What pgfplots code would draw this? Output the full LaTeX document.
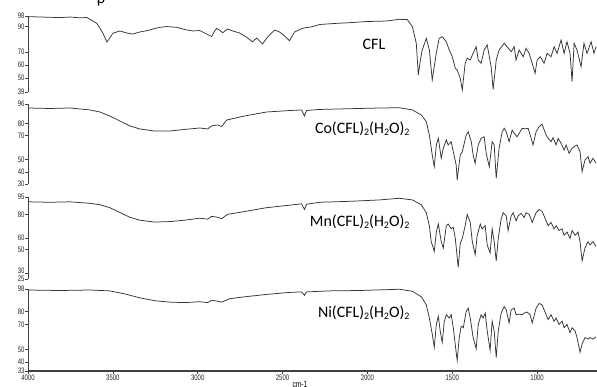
\documentclass[border=0pt]{standalone}
\usepackage{fontspec}
\setmainfont{Carlito}
\newfontfamily\narrow[FakeStretch=0.75]{Liberation Sans}
\usepackage{pgfplots}
\pgfplotsset{compat=1.18}
\newcommand\sub[1]{\raisebox{-0.12em}{\fontsize{10}{10}\selectfont #1}}
\begin{document}
\begin{tikzpicture}[x=1bp,y=1bp]
\pgfplotsset{
  ir/.style={
    scale only axis, width=577bp, anchor=south west,
    xmin=600, xmax=4000, x dir=reverse,
    axis y line*=left,
    axis line style={black!75, line width=0.8bp},
    tick style={black!75, line width=0.6bp},
    major tick length=2.5bp,
    tick align=outside,
    yticklabel style={font=\narrow\fontsize{8}{8}\selectfont, inner sep=0.8bp, text=black!85},
    xticklabel style={font=\narrow\fontsize{8}{8}\selectfont, inner sep=1bp, text=black!85},
    /pgf/number format/assume math mode=true,
    /pgf/number format/1000 sep={},
    clip=false,
  },
  spec/.style={black!80, line width=0.75bp, mark=none},
}
% CFL
\begin{axis}[ir, axis x line=none, at={(28bp,294bp)}, height=76bp, ymin=39, ymax=98, ytick={39,50,60,70,90,98}]
\addplot[spec] coordinates {
(4000,97.5)(3870,97.0)(3812,96.8)(3750,97.2)(3700,96.6)(3653,96.8)(3594,92.3)(3559,84.8)(3535,77.8)(3518,80.9)(3500,84.6)(3459,86.4)(3418,84.8)(3382,84.0)(3341,85.6)(3300,86.6)(3224,89.2)(3182,89.8)(3124,89.2)(3077,87.5)(3029,86.4)(2988,86.7)(2947,84.0)(2918,82.1)(2900,86.4)(2888,88.3)(2871,87.1)(2853,85.0)(2824,87.9)(2794,86.4)(2753,84.8)(2712,81.5)(2677,78.0)(2653,80.9)(2618,76.3)(2588,81.7)(2547,87.1)(2518,85.6)(2488,82.5)(2459,78.8)(2429,85.6)(2382,88.5)(2324,89.7)(2282,91.4)(2194,92.2)(2106,92.8)(2006,93.7)(1888,94.1)(1812,95.4)(1765,95.3)(1735,89.7)(1712,76.8)(1700,52.2)(1688,63.8)(1677,71.6)(1653,80.7)(1635,71.6)(1618,48.3)(1594,69.3)(1577,80.7)(1559,81.9)(1535,78.0)(1518,71.6)(1500,66.4)(1482,57.4)(1471,56.1)(1453,49.6)(1441,40.6)(1424,61.3)(1412,65.2)(1394,63.8)(1382,67.7)(1359,74.2)(1347,63.8)(1330,61.3)(1312,71.6)(1294,75.5)(1271,58.6)(1259,41.1)(1241,63.8)(1224,71.6)(1194,76.8)(1177,74.2)(1153,70.3)(1135,74.2)(1124,63.8)(1106,71.6)(1082,66.4)(1065,72.9)(1047,69.0)(1029,61.3)(1012,53.5)(1000,63.8)(982,66.4)(959,61.3)(941,69.0)(918,66.4)(900,74.2)(882,69.0)(859,79.4)(841,69.0)(824,78.0)(806,69.0)(794,47.0)(782,76.8)(765,71.6)(741,58.6)(724,76.8)(706,69.0)(682,78.0)(665,69.0)(653,74.2)
};
\end{axis}
% Co
\begin{axis}[ir, axis x line=none, at={(28bp,202bp)}, height=80bp, ymin=30, ymax=96, ytick={30,40,50,70,80,96}]
\addplot[spec] coordinates {
(4000,92.7)(3871,92.3)(3753,92.7)(3635,91.1)(3576,89.4)(3518,86.1)(3459,82.0)(3400,77.9)(3341,75.4)(3253,73.7)(3165,73.7)(3077,75.0)(2988,76.2)(2941,75.4)(2918,77.9)(2882,78.7)(2859,77.4)(2829,82.8)(2724,86.1)(2594,89.4)(2459,90.6)(2388,91.1)(2371,86.1)(2359,90.6)(2282,91.5)(2165,91.9)(2047,92.3)(1929,92.7)(1812,92.9)(1735,91.1)(1682,86.9)(1653,81.4)(1635,70.4)(1618,53.9)(1606,44.3)(1594,62.2)(1582,67.7)(1565,51.2)(1553,59.5)(1535,66.3)(1524,62.2)(1506,64.9)(1494,56.6)(1477,45.7)(1471,33.3)(1453,53.9)(1441,56.6)(1418,70.4)(1406,73.1)(1388,64.9)(1377,53.9)(1365,47.1)(1347,62.2)(1330,67.7)(1312,69.0)(1300,55.3)(1282,44.3)(1265,64.9)(1253,62.2)(1241,34.7)(1224,59.5)(1206,73.1)(1194,76.0)(1182,73.1)(1165,64.9)(1147,74.5)(1135,71.8)(1118,69.0)(1100,73.1)(1088,76.0)(1071,75.4)(1053,76.0)(1041,70.4)(1024,62.2)(1006,73.1)(988,77.3)(971,79.3)(947,70.4)(935,67.7)(918,64.9)(906,68.2)(888,62.2)(876,67.7)(859,63.6)(841,58.0)(829,62.2)(812,55.3)(794,59.5)(782,60.8)(765,62.2)(747,56.6)(735,40.1)(718,49.8)(700,52.5)(688,47.1)(671,51.2)(653,47.1)
};
\end{axis}
% Mn
\begin{axis}[ir, axis x line=none, at={(28bp,107bp)}, height=82bp, ymin=25, ymax=95, ytick={25,50,60,80,95},
  extra y ticks={30}, extra y tick style={yticklabel style={yshift=2.5bp}}]
\addplot[spec] coordinates {
(4000,90.9)(3871,90.5)(3753,90.9)(3635,89.6)(3576,88.4)(3518,85.9)(3459,81.8)(3400,77.7)(3341,75.2)(3253,73.6)(3165,74.0)(3077,75.2)(2988,76.9)(2941,76.1)(2918,78.5)(2882,77.7)(2859,76.5)(2824,80.2)(2724,82.6)(2594,85.9)(2459,88.0)(2388,89.2)(2371,84.3)(2359,88.8)(2282,90.5)(2106,91.3)(1929,92.5)(1812,93.9)(1735,92.5)(1682,88.4)(1653,81.6)(1635,70.5)(1624,56.9)(1606,48.6)(1594,65.1)(1582,71.9)(1565,56.9)(1553,51.4)(1535,70.5)(1524,71.9)(1506,67.8)(1494,69.2)(1482,59.6)(1465,34.9)(1453,55.5)(1441,59.6)(1424,70.5)(1412,80.2)(1394,73.3)(1382,56.9)(1365,45.8)(1353,62.3)(1335,71.9)(1324,67.8)(1306,70.5)(1294,54.1)(1277,47.2)(1265,67.8)(1253,56.9)(1241,40.4)(1229,59.6)(1212,76.1)(1200,81.6)(1182,78.8)(1171,66.4)(1153,78.8)(1141,81.6)(1124,74.7)(1112,78.8)(1094,81.0)(1076,77.5)(1065,81.6)(1047,80.2)(1029,73.3)(1006,81.6)(988,84.3)(971,82.9)(947,74.7)(935,70.5)(918,73.3)(900,67.8)(888,70.5)(871,66.4)(853,67.8)(841,62.3)(824,65.1)(806,59.6)(794,66.4)(776,62.3)(759,65.1)(747,56.9)(735,40.4)(718,51.4)(700,56.9)(688,54.1)(671,56.9)(653,52.8)
};
\end{axis}
% Ni
\begin{axis}[ir, axis x line*=bottom, at={(28bp,15bp)}, height=82bp, ymin=33, ymax=98, ytick={33,40,50,70,80,98},
  xtick={4000,3500,3000,2500,2000,1500,1000,600},
  x axis line style={line width=1.4bp}]
\addplot[spec] coordinates {
(4000,97.2)(3812,96.8)(3635,97.2)(3518,96.5)(3429,94.1)(3341,91.0)(3253,88.7)(3165,87.6)(3077,87.2)(2988,87.9)(2941,87.2)(2918,89.1)(2882,88.3)(2859,87.6)(2812,90.3)(2724,91.8)(2594,93.7)(2459,95.3)(2388,95.7)(2371,93.0)(2359,95.7)(2224,96.5)(2047,96.8)(1812,97.8)(1735,96.2)(1682,91.8)(1653,85.4)(1635,75.0)(1618,62.2)(1606,51.8)(1594,69.9)(1582,76.3)(1571,64.7)(1559,55.7)(1547,72.5)(1535,77.6)(1518,75.0)(1506,77.6)(1494,67.3)(1477,47.9)(1471,41.5)(1459,59.5)(1447,68.6)(1435,67.3)(1418,80.2)(1406,82.8)(1394,75.0)(1377,59.5)(1359,50.6)(1347,69.9)(1330,77.6)(1318,75.0)(1306,78.9)(1294,64.7)(1277,49.3)(1265,72.5)(1253,64.7)(1241,43.6)(1229,64.7)(1212,78.9)(1194,84.1)(1182,81.5)(1165,71.1)(1153,81.5)(1135,82.8)(1124,77.6)(1106,78.1)(1088,77.6)(1076,78.9)(1059,79.7)(1041,77.6)(1029,71.1)(1006,82.8)(988,86.6)(971,85.4)(947,77.6)(935,73.8)(918,77.6)(900,72.5)(888,75.0)(871,69.9)(853,72.5)(841,67.3)(824,69.9)(806,63.4)(794,67.3)(776,64.7)(765,59.5)(747,47.9)(735,54.4)(718,59.5)(700,58.3)(688,59.5)(671,58.3)(653,60.1)
};
\end{axis}
\node[font=\fontsize{16}{16}\selectfont] at (374,342) {CFL};
\node[anchor=east, font=\fontsize{16}{16}\selectfont] at (413,257) {Co(CFL)\sub{2}(H\sub{2}O)\sub{2}};
\node[anchor=east, font=\fontsize{16}{16}\selectfont] at (413,164) {Mn(CFL)\sub{2}(H\sub{2}O)\sub{2}};
\node[anchor=east, font=\fontsize{16}{16}\selectfont] at (413,73) {Ni(CFL)\sub{2}(H\sub{2}O)\sub{2}};
\node[font=\narrow\fontsize{9}{9}\selectfont] at (300,2) {cm-1};
\node[anchor=base, font=\fontsize{16}{16}\selectfont] at (101,383) {p};
\pgfresetboundingbox
\useasboundingbox (0,0) rectangle (597,386);
\end{tikzpicture}
\end{document}
